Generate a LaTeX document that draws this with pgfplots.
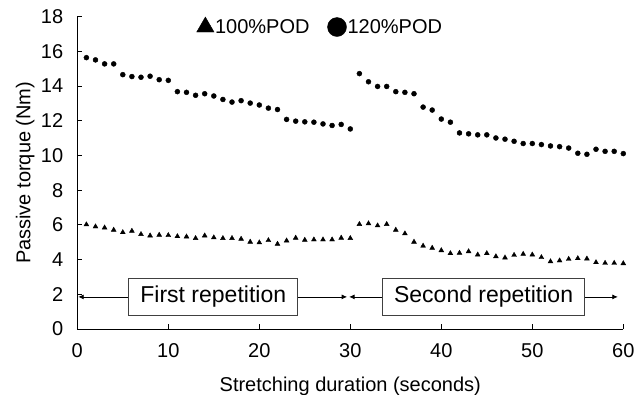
\documentclass[border=0pt]{standalone}
\usepackage{pgfplots}
\pgfplotsset{compat=1.18}
\usepackage{fontspec}
\setmainfont{Liberation Sans}
\usetikzlibrary{arrows.meta}
\pgfplotsset{mylegimg/.style={legend image code/.code={\draw[##1] plot coordinates {(0bp,0bp)};}}}
\begin{document}
\begin{tikzpicture}
\begin{axis}[
  name=ax,
  scale only axis, width=546bp, height=312.3bp,
  xmin=0, xmax=60, ymin=0, ymax=18,
  axis lines*=left,
  axis line style={line width=1bp, black},
  tick align=inside, major tick length=5bp,
  tick style={line width=0.8bp, black},
  xtick={0,10,...,60}, ytick={0,2,...,18},
  /pgf/number format/assume math mode=true,
  tick label style={font=\fontsize{20bp}{24bp}\selectfont},
  xticklabel style={yshift=-11bp},
  yticklabel style={xshift=-10.6bp},
  label style={font=\fontsize{20bp}{24bp}\selectfont},
  xlabel={Stretching duration (seconds)},
  ylabel={Passive torque (Nm)},
  xlabel style={at={(axis description cs:0.5,0)}, anchor=base, yshift=-62bp},
  ylabel style={at={([xshift=-47bp]axis description cs:0,0.5)}, anchor=base},
  legend style={draw=none, fill=none, inner sep=0pt, legend columns=2,
    at={(axis cs:13.1,17.42)}, anchor=west,
    font=\fontsize{20bp}{24bp}\selectfont,
    nodes={inner sep=1bp},
    /tikz/every even column/.append style={column sep=17bp}},
]
\addplot[only marks, mark=triangle*, mark size=2.8bp, black, forget plot] coordinates {
(1,6.02)(2,5.90)(3,5.84)(4,5.71)(5,5.57)(6,5.65)(7,5.46)(8,5.38)(9,5.42)(10,5.40)
(11,5.34)(12,5.32)(13,5.23)(14,5.38)(15,5.27)(16,5.23)(17,5.23)(18,5.19)(19,5.02)(20,4.98)
(21,5.11)(22,4.90)(23,5.09)(24,5.25)(25,5.13)(26,5.15)(27,5.15)(28,5.15)(29,5.25)(30,5.23)
(31,6.04)(32,6.08)(33,5.96)(34,6.04)(35,5.71)(36,5.50)(37,5.02)(38,4.79)(39,4.67)(40,4.53)
(41,4.36)(42,4.38)(43,4.47)(44,4.28)(45,4.36)(46,4.18)(47,4.11)(48,4.26)(49,4.32)(50,4.28)
(51,4.13)(52,3.89)(53,3.94)(54,4.03)(55,4.07)(56,4.05)(57,3.84)(58,3.80)(59,3.80)(60,3.78)
};
\addplot[only marks, mark=*, mark size=2.5bp, black, forget plot] coordinates {
(1,15.64)(2,15.51)(3,15.28)(4,15.28)(5,14.66)(6,14.55)(7,14.51)(8,14.57)(9,14.37)(10,14.33)
(11,13.68)(12,13.64)(13,13.47)(14,13.56)(15,13.43)(16,13.23)(17,13.08)(18,13.16)(19,13.02)(20,12.91)
(21,12.73)(22,12.65)(23,12.08)(24,11.98)(25,11.94)(26,11.92)(27,11.82)(28,11.73)(29,11.79)(30,11.53)
(31,14.72)(32,14.25)(33,13.98)(34,13.98)(35,13.68)(36,13.64)(37,13.56)(38,12.79)(39,12.62)(40,12.10)
(41,11.92)(42,11.30)(43,11.25)(44,11.19)(45,11.19)(46,11.01)(47,10.94)(48,10.82)(49,10.69)(50,10.69)
(51,10.63)(52,10.55)(53,10.51)(54,10.43)(55,10.13)(56,10.07)(57,10.36)(58,10.24)(59,10.24)(60,10.11)
};
\addlegendimage{mylegimg, black, mark=triangle*, mark size=10bp}
\addlegendentry{100\%POD}
\addlegendimage{mylegimg, black, mark=*, mark size=9.5bp}
\addlegendentry{120\%POD}
\draw[{Latex[length=5.5bp,width=5bp]}-{Latex[length=5.5bp,width=5bp]}, line width=0.8bp] (axis cs:0.1,1.85) -- (axis cs:29.65,1.85);
\draw[{Latex[length=5.5bp,width=5bp]}-{Latex[length=5.5bp,width=5bp]}, line width=0.8bp] (axis cs:29.87,1.85) -- (axis cs:59.4,1.85);
\node[draw=black!75, line width=0.9bp, fill=white, font=\fontsize{23bp}{27bp}\selectfont, inner xsep=11.5bp, minimum height=37.7bp] at (axis cs:14.94,1.85) {First repetition};
\node[draw=black!75, line width=0.9bp, fill=white, font=\fontsize{23bp}{27bp}\selectfont, inner xsep=11.2bp, minimum height=37.7bp] at (axis cs:44.65,1.85) {Second repetition};
\end{axis}
\pgfresetboundingbox
\useasboundingbox ([xshift=-77.3bp,yshift=-66bp]ax.south west) rectangle ([xshift=10.7bp,yshift=16.7bp]ax.north east);
\end{tikzpicture}
\end{document}
